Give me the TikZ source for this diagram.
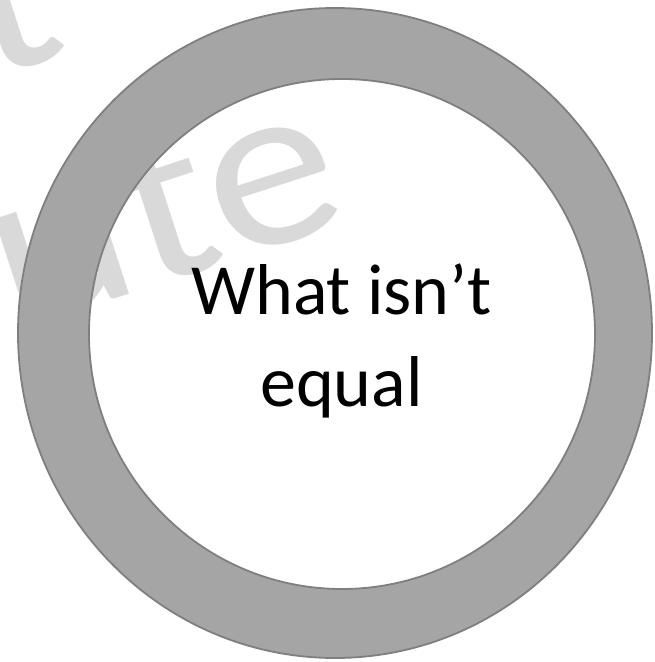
\documentclass[tikz,border=0pt]{standalone}
\usepackage{fontspec}
\setmainfont{Carlito}
\usepackage{xcolor}
\usepackage{tikz}

\definecolor{ringgray}{HTML}{A5A5A5}
\definecolor{ringline}{HTML}{7F7F7F}
\definecolor{markgray}{HTML}{D9D9D9}

\begin{document}
\begin{tikzpicture}[
    x=1pt, y=1pt,
    watermark/.style={text=markgray, font=\fontsize{236}{270}\selectfont, rotate=18, xscale=1.12, inner sep=0pt},
    ring/.style={fill=ringgray, draw=ringline, line width=1.8pt, even odd rule},
    label/.style={align=center, font=\fontsize{72}{92}\selectfont, inner sep=0pt}
]
    \useasboundingbox (0,0) rectangle (654,662);
    \clip (0,0) rectangle (654,662);

    % watermark behind the ring
    \node[watermark, anchor=base east] (marktop) at (72,610) {Do not};
    \node[watermark, anchor=base east] (markbottom) at (354,441) {distribute};

    \draw[ring] (335,329) ellipse [x radius=317, y radius=325]
                (342,328) ellipse [x radius=253, y radius=255];

    \node[label] (question) at (341.5,321) {What isn’t\\equal};
\end{tikzpicture}
\end{document}
